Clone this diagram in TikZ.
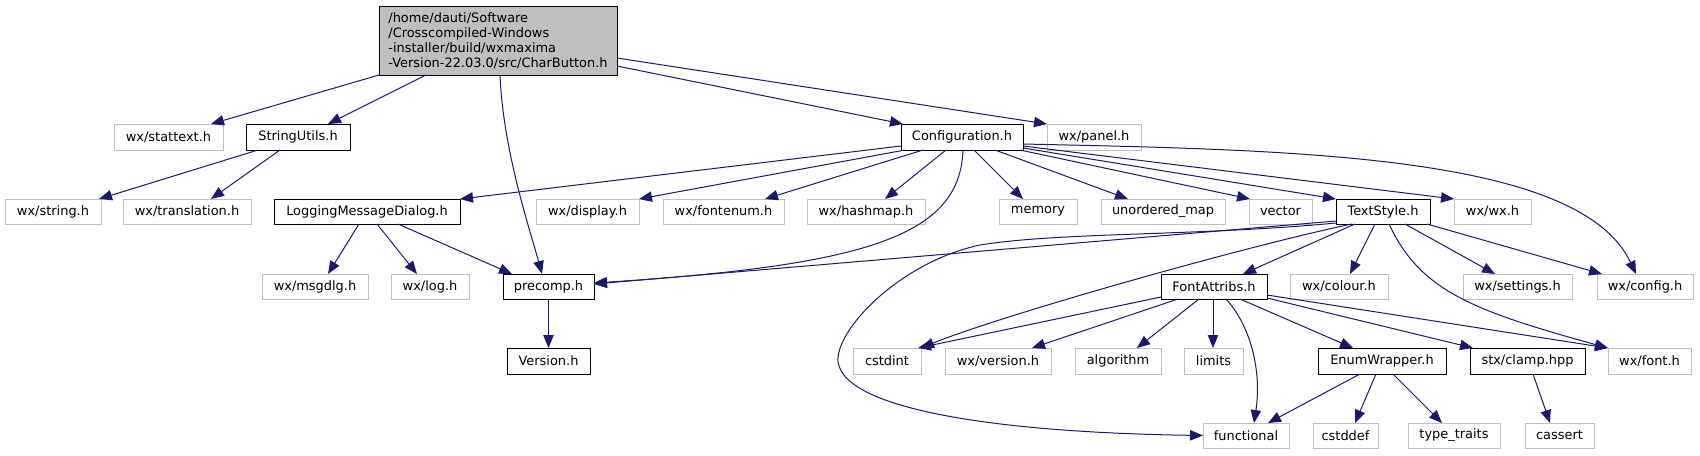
\documentclass[tikz,border=0pt]{standalone}
\usepackage{fontspec}
\setmainfont{DejaVu Sans}
\usetikzlibrary{arrows.meta,calc}
\definecolor{edgec}{HTML}{191970}
\definecolor{extc}{HTML}{BFBFBF}
\newcommand\mkbox[7]{\node[#6, minimum width={(#3-#2)*0.75pt}, minimum height={(#5-#4)*0.75pt}] (#1) at ({(#2+#3)/2},{(#4+#5)/2}) {#7};}
\begin{document}
\begin{tikzpicture}[x=0.75pt,y=-0.75pt,
 nbase/.style={rectangle, inner sep=0pt, outer sep=0pt, line width=0.75pt, fill=white, font=\fontsize{9.7pt}{11.25pt}\selectfont},
 extbox/.style={nbase, draw=extc},
 intbox/.style={nbase, draw=black},
 mainbox/.style={nbase, draw=black, fill=extc, align=left},
 dep/.style={draw=edgec, line width=0.75pt, -{Triangle[length=9.75pt,width=7.8pt]}}]
\fill[white] (0,0) rectangle (1700,455);
\useasboundingbox (0,0) rectangle (1700,455);
% nodes
\mkbox{cb}{379}{617}{6}{75}{mainbox}{/home/dauti/Software\\/Crosscompiled-Windows\\-installer/build/wxmaxima\\-Version-22.03.0/src/CharButton.h}
\mkbox{stattext}{114}{223}{124}{150}{extbox}{wx/stattext.h}
\mkbox{su}{246}{350}{124}{150}{intbox}{StringUtils.h}
\mkbox{conf}{901}{1023}{124}{150}{intbox}{Configuration.h}
\mkbox{panel}{1047}{1141}{124}{150}{extbox}{wx/panel.h}
\mkbox{str}{5}{101}{199}{224}{extbox}{wx/string.h}
\mkbox{transl}{123}{251}{199}{224}{extbox}{wx/translation.h}
\mkbox{lmd}{274}{460}{199}{224}{intbox}{LoggingMessageDialog.h}
\mkbox{disp}{536}{639}{199}{224}{extbox}{wx/display.h}
\mkbox{fenum}{663}{784}{199}{224}{extbox}{wx/fontenum.h}
\mkbox{hmap}{807}{925}{199}{224}{extbox}{wx/hashmap.h}
\mkbox{mem}{999}{1077}{199}{224}{extbox}{memory}
\mkbox{umap}{1101}{1225}{199}{224}{extbox}{unordered\_map}
\mkbox{vec}{1249}{1312}{199}{224}{extbox}{vector}
\mkbox{ts}{1336}{1430}{199}{224}{intbox}{TextStyle.h}
\mkbox{wxh}{1454}{1531}{199}{224}{extbox}{wx/wx.h}
\mkbox{msgdlg}{262}{368}{274}{299}{extbox}{wx/msgdlg.h}
\mkbox{logh}{391}{469}{274}{299}{extbox}{wx/log.h}
\mkbox{pre}{503}{594}{274}{299}{intbox}{precomp.h}
\mkbox{fa}{1161}{1267}{274}{299}{intbox}{FontAttribs.h}
\mkbox{colour}{1290}{1388}{274}{299}{extbox}{wx/colour.h}
\mkbox{settings}{1463}{1572}{274}{299}{extbox}{wx/settings.h}
\mkbox{config}{1597}{1693}{274}{299}{extbox}{wx/config.h}
\mkbox{ver}{507}{590}{348}{374}{intbox}{Version.h}
\mkbox{cstdint}{853}{921}{348}{374}{extbox}{cstdint}
\mkbox{version}{945}{1051}{348}{374}{extbox}{wx/version.h}
\mkbox{algo}{1075}{1161}{348}{374}{extbox}{algorithm}
\mkbox{limits}{1184}{1243}{348}{374}{extbox}{limits}
\mkbox{ew}{1318}{1446}{348}{374}{intbox}{EnumWrapper.h}
\mkbox{clamp}{1470}{1585}{348}{374}{intbox}{stx/clamp.hpp}
\mkbox{font}{1608}{1691}{348}{374}{extbox}{wx/font.h}
\mkbox{func}{1203}{1289}{423}{448}{extbox}{functional}
\mkbox{cstddef}{1313}{1378}{423}{448}{extbox}{cstddef}
\mkbox{ttraits}{1408}{1500}{423}{448}{extbox}{type\_traits}
\mkbox{cassert}{1525}{1594}{423}{448}{extbox}{cassert}
% edges from CharButton.h
\draw[dep] (cb.south west) -- ($(stattext.north west)+(97,0)$);
\draw[dep] ($(cb.south west)+(47,0)$) -- ($(su.north west)+(82,0)$);
\draw[dep] ($(cb.south west)+(121,0)$) .. controls +(3,75) and +(-12,-44) .. ($(pre.north west)+(39,0)$);
\draw[dep] ($(cb.south east)+(0,-9)$) -- ($(conf.north west)+(2,0)$);
\draw[dep] ($(cb.south east)+(0,-17)$) -- (panel.north west);
% StringUtils
\draw[dep] ($(su.south west)+(12,0)$) -- ($(str.north west)+(94,0)$);
\draw[dep] ($(su.south west)+(34,0)$) -- ($(transl.north west)+(88,0)$);
% Configuration
\draw[dep] ($(conf.south west)+(0,-4)$) -- (lmd.north east);
\draw[dep] ($(conf.south west)+(4,0)$) -- (disp.north east);
\draw[dep] ($(conf.south west)+(22,0)$) -- ($(fenum.north west)+(102,0)$);
\draw[dep] ($(conf.south west)+(45,0)$) -- ($(hmap.north west)+(78,0)$);
\draw[dep] ($(conf.south west)+(62,0)$) .. controls +(-3,85) and +(276,-18) .. ($(pre.north east)+(0,9)$);
\draw[dep] ($(conf.south west)+(73,0)$) -- ($(mem.north west)+(24,0)$);
\draw[dep] ($(conf.south west)+(94,0)$) -- ($(umap.north west)+(27,0)$);
\draw[dep] ($(conf.south east)+(-3,0)$) -- ($(vec.north west)+(1,0)$);
\draw[dep] ($(conf.south east)+(0,-2)$) -- (ts.north west);
\draw[dep] ($(conf.south east)+(0,-4)$) -- (wxh.north west);
\draw[dep] ($(conf.south east)+(0,-6)$) .. controls +(277,6) and +(-56,-119) .. ($(config.north west)+(39,0)$);
% LoggingMessageDialog
\draw[dep] ($(lmd.south west)+(85,0)$) -- ($(msgdlg.north west)+(66,0)$);
\draw[dep] ($(lmd.south west)+(103,0)$) -- ($(logh.north west)+(26,0)$);
\draw[dep] ($(lmd.south west)+(124,0)$) -- ($(pre.north west)+(9,0)$);
% precomp
\draw[dep] (pre.south) -- (ver.north);
% TextStyle
\draw[dep] ($(ts.south west)+(0,-3)$) -- ($(pre.north east)+(0,10)$);
\draw[dep] ($(ts.south west)+(0,-1)$) .. controls +(-136,13) and +(80,-13) .. (980,245) .. controls +(-80,17) and +(-3,-32) .. (838,362) .. controls +(7,48) and +(-203,-3) .. (func.west);
\draw[dep] ($(ts.south west)+(16,0)$) .. controls +(-102,21) and +(81,-33) .. (cstdint.north east);
\draw[dep] ($(ts.south west)+(19,0)$) -- ($(fa.north west)+(82,0)$);
\draw[dep] ($(ts.south west)+(39,0)$) -- ($(colour.north west)+(60,0)$);
\draw[dep] ($(ts.south west)+(53,0)$) .. controls +(31,66) and +(-138,-38) .. (font.north west);
\draw[dep] ($(ts.south west)+(69,0)$) -- ($(settings.north west)+(32,0)$);
\draw[dep] ($(ts.south east)+(-3,0)$) -- ($(config.north west)+(5,0)$);
% FontAttribs
\draw[dep] ($(fa.south west)+(0,-2)$) -- ($(cstdint.north east)+(-3,0)$);
\draw[dep] ($(fa.south west)+(17,0)$) -- ($(version.north west)+(87,0)$);
\draw[dep] ($(fa.south west)+(38,0)$) -- ($(algo.north west)+(62,0)$);
\draw[dep] ($(fa.south west)+(52,0)$) -- ($(limits.north west)+(29,0)$);
\draw[dep] ($(fa.south west)+(65,0)$) .. controls +(24,26) and +(8,-53) .. ($(func.north west)+(51,0)$);
\draw[dep] ($(fa.south west)+(79,0)$) -- ($(ew.north west)+(35,0)$);
\draw[dep] ($(fa.south east)+(0,-1)$) -- ($(clamp.north west)+(3,0)$);
\draw[dep] ($(fa.south east)+(0,-4)$) -- (font.north west);
% EnumWrapper and clamp
\draw[dep] ($(ew.south west)+(42,0)$) -- ($(func.north west)+(65,0)$);
\draw[dep] ($(ew.south west)+(58,0)$) -- ($(cstddef.north west)+(42,0)$);
\draw[dep] ($(ew.south west)+(75,0)$) -- ($(ttraits.north west)+(34,0)$);
\draw[dep] ($(clamp.south west)+(63,0)$) -- ($(cassert.north west)+(25,0)$);
\end{tikzpicture}
\end{document}
